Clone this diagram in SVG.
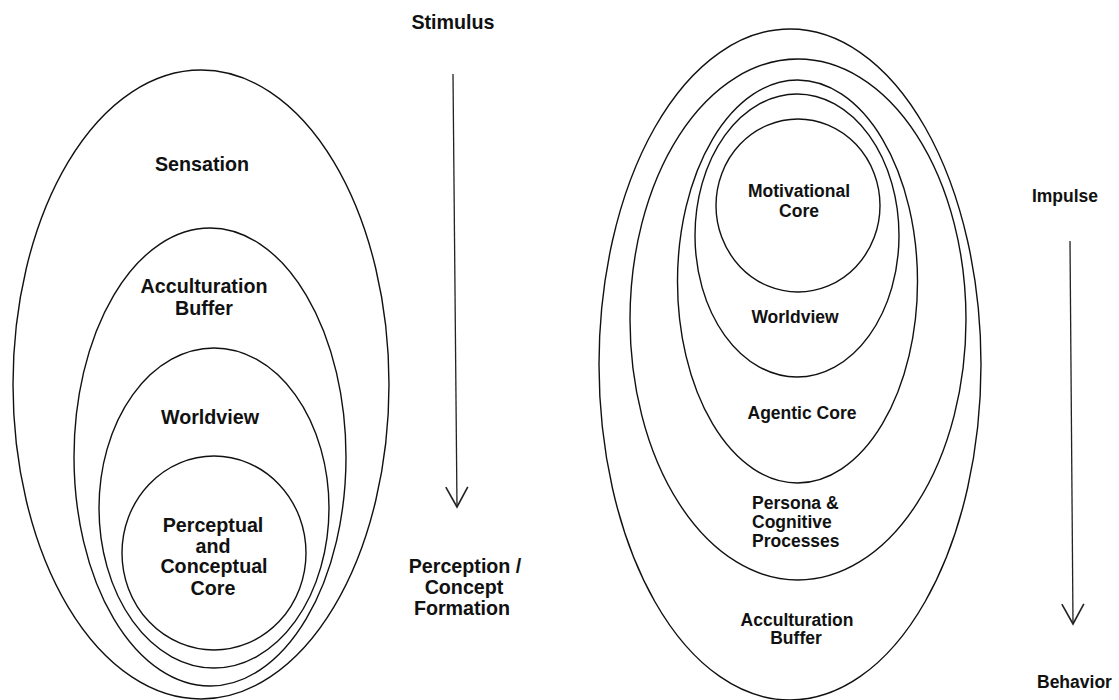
<svg xmlns="http://www.w3.org/2000/svg" width="1119" height="700" viewBox="0 0 1119 700">
<style>
.shell{fill:none;stroke:#111;stroke-width:1.4}
.arrow{fill:none;stroke:#222;stroke-width:1.3}
text{font-family:"Liberation Sans",Arial,sans-serif;font-weight:bold;fill:#111}
.l{font-size:19.7px;text-anchor:middle}
.r{font-size:17.5px;text-anchor:middle}
.rs{font-size:17.5px;text-anchor:start}
</style>
<defs>
<marker id="vhead" markerUnits="userSpaceOnUse" markerWidth="30" markerHeight="30" viewBox="-25 -15 30 30" refX="0" refY="0" orient="auto">
<path d="M-20,-11 L0,0 L-20,11" fill="none" stroke="#222" stroke-width="1.6"/>
</marker>
</defs>
<rect width="1119" height="700" fill="#fff"/>
<g id="left-sensation">
<ellipse class="shell" cx="201" cy="384.5" rx="188" ry="314.5"/>
<text class="l" x="202" y="171">Sensation</text>
</g>
<g id="left-acculturation">
<ellipse class="shell" cx="210" cy="457" rx="136" ry="229"/>
<text class="l" x="204" y="293">Acculturation</text>
<text class="l" x="204" y="315">Buffer</text>
</g>
<g id="left-worldview">
<ellipse class="shell" cx="214" cy="508" rx="115" ry="160"/>
<text class="l" x="210" y="424">Worldview</text>
</g>
<g id="left-core">
<ellipse class="shell" cx="214" cy="553" rx="92" ry="97"/>
<text class="l" x="213" y="532">Perceptual</text>
<text class="l" x="213" y="553">and</text>
<text class="l" x="214" y="573">Conceptual</text>
<text class="l" x="213" y="595">Core</text>
</g>
<g id="stimulus">
<text class="l" x="453" y="29">Stimulus</text>
</g>
<g id="perception">
<text class="l" x="465" y="573">Perception /</text>
<text class="l" x="464" y="594">Concept</text>
<text class="l" x="462" y="615">Formation</text>
</g>
<g id="right-acculturation">
<ellipse class="shell" cx="790" cy="364.5" rx="191" ry="335.5"/>
<text class="r" x="797" y="626">Acculturation</text>
<text class="r" x="796" y="644">Buffer</text>
</g>
<g id="right-persona">
<ellipse class="shell" cx="798" cy="319.5" rx="168" ry="260.5"/>
<text class="rs" x="752" y="509">Persona &amp;</text>
<text class="rs" x="752" y="528">Cognitive</text>
<text class="rs" x="752" y="547">Processes</text>
</g>
<g id="right-agentic">
<ellipse class="shell" cx="797.5" cy="281.5" rx="120" ry="201.5"/>
<text class="r" x="802" y="419">Agentic Core</text>
</g>
<g id="right-worldview">
<ellipse class="shell" cx="797" cy="235.5" rx="102" ry="141.5"/>
<text class="r" x="795" y="323">Worldview</text>
</g>
<g id="right-motivational">
<ellipse class="shell" cx="798" cy="205.5" rx="82" ry="86.5"/>
<text class="r" x="799" y="197">Motivational</text>
<text class="r" x="799" y="217">Core</text>
</g>
<g id="impulse">
<text class="r" x="1065" y="202">Impulse</text>
</g>
<g id="behavior">
<text class="rs" x="1037" y="688">Behavior</text>
</g>
<g id="connectors">
<line class="arrow" x1="453" y1="74" x2="457" y2="507" marker-end="url(#vhead)"/>
<line class="arrow" x1="1070" y1="241" x2="1073" y2="624" marker-end="url(#vhead)"/>
</g>
</svg>
